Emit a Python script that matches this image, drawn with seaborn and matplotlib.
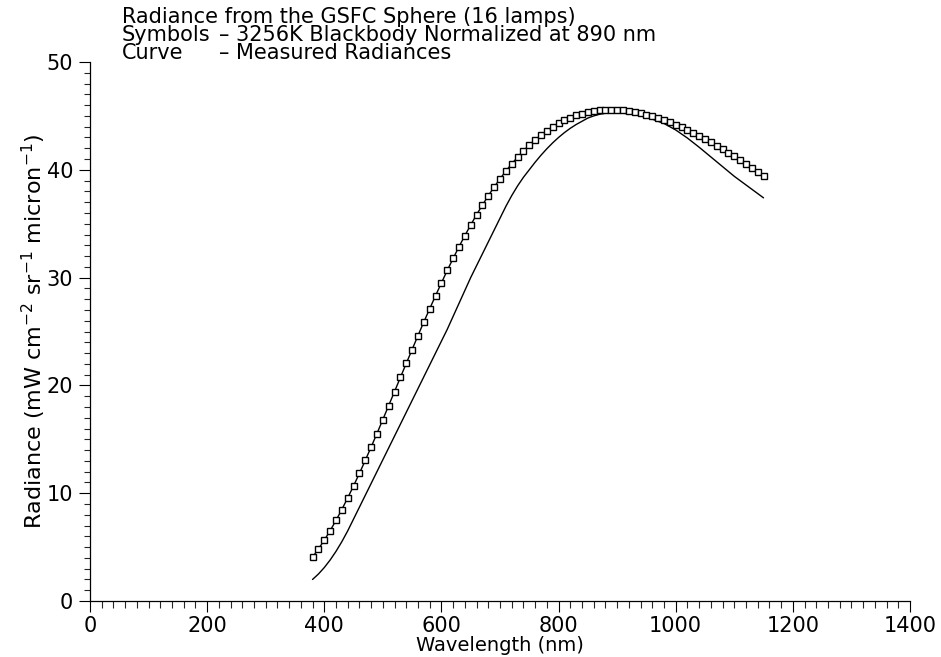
import matplotlib
matplotlib.use("Agg")
import matplotlib.pyplot as plt
from matplotlib.ticker import MultipleLocator
import seaborn as sns
import pandas as pd

# Wavelengths (nm) of the blackbody symbols, every 10 nm
bb_wavelength = list(range(380, 1151, 10))
# 3256K blackbody normalized at 890 nm
bb_radiance = [
    4.07, 4.82, 5.64, 6.52, 7.47, 8.49, 9.56, 10.68, 11.84, 13.04,
    14.28, 15.54, 16.83, 18.13, 19.43, 20.74, 22.04, 23.33, 24.62, 25.88,
    27.11, 28.32, 29.50, 30.67, 31.78, 32.86, 33.89, 34.88, 35.83, 36.73,
    37.59, 38.40, 39.16, 39.88, 40.55, 41.17, 41.76, 42.29, 42.78, 43.22,
    43.63, 43.99, 44.31, 44.60, 44.84, 45.05, 45.22, 45.36, 45.46, 45.53,
    45.57, 45.59, 45.58, 45.54, 45.47, 45.38, 45.27, 45.13, 44.98, 44.81,
    44.62, 44.41, 44.18, 43.93, 43.69, 43.42, 43.15, 42.85, 42.55, 42.24,
    41.91, 41.59, 41.25, 40.90, 40.56, 40.20, 39.84, 39.47,
]

# Measured radiances (curve)
meas_wavelength = [380, 390, 400, 410, 420, 430, 440, 450, 460, 470,
                   480, 490, 500, 510, 520, 530, 540, 550, 560, 570,
                   580, 590, 600, 610, 620, 630, 640, 650, 660, 670,
                   680, 690, 700, 710, 720, 730, 740, 750, 760, 770,
                   780, 790, 800, 810, 820, 830, 840, 850, 860, 870,
                   880, 890, 900, 920, 940, 960, 980, 1000, 1020, 1040,
                   1060, 1080, 1100, 1120, 1140, 1150]
meas_radiance = [2.0, 2.5, 3.1, 3.8, 4.6, 5.5, 6.5, 7.6, 8.7, 9.8,
                 10.9, 12.0, 13.1, 14.2, 15.3, 16.4, 17.5, 18.6, 19.7, 20.8,
                 21.9, 23.0, 24.1, 25.2, 26.4, 27.6, 28.8, 30.0, 31.1, 32.2,
                 33.3, 34.4, 35.5, 36.6, 37.6, 38.5, 39.3, 40.0, 40.7, 41.35,
                 41.95, 42.5, 43.0, 43.45, 43.85, 44.2, 44.5, 44.8, 45.0, 45.15,
                 45.25, 45.3, 45.3, 45.2, 45.0, 44.7, 44.3, 43.7, 42.95, 42.1,
                 41.2, 40.3, 39.4, 38.6, 37.8, 37.4]

title_lines = ["Radiance from the GSFC Sphere (16 lamps)",
               "Symbols", "Curve"]
title_desc = ["", "\u2013 3256K Blackbody Normalized at 890 nm",
              "\u2013 Measured Radiances"]
x_ticks = [0, 200, 400, 600, 800, 1000, 1200, 1400]
y_ticks = [0, 10, 20, 30, 40, 50]

bb_df = pd.DataFrame({"wl": bb_wavelength, "rad": bb_radiance})
meas_df = pd.DataFrame({"wl": meas_wavelength, "rad": meas_radiance})

sns.set_style("ticks")
plt.rcParams["font.family"] = ["DejaVu Sans"]
plt.rcParams["text.color"] = "black"
plt.rcParams["axes.labelcolor"] = "black"

fig = plt.figure(figsize=(9.41, 6.57), dpi=100)
ax = fig.add_axes([0.0956, 0.0852, 0.8714, 0.8204])

sns.lineplot(data=meas_df, x="wl", y="rad", ax=ax, color="black",
             linewidth=1.0)
sns.lineplot(data=bb_df, x="wl", y="rad", ax=ax, color="black",
             linewidth=1.0, marker="s", markersize=4.6,
             markerfacecolor="white", markeredgecolor="black",
             markeredgewidth=1.0)

ax.set_xlim(0, 1400)
ax.set_ylim(0, 50)
ax.set_xticks(x_ticks)
ax.set_yticks(y_ticks)
ax.xaxis.set_minor_locator(MultipleLocator(20))
ax.yaxis.set_minor_locator(MultipleLocator(1))
ax.tick_params(axis="both", which="major", labelsize=15, color="black",
               width=0.8, labelcolor="black")
ax.tick_params(axis="x", which="major", length=8, pad=3)
ax.tick_params(axis="x", which="minor", length=5, width=0.8)
ax.tick_params(axis="y", which="major", length=8, pad=4)
ax.tick_params(axis="y", which="minor", length=4, width=0.8)

for s in ["top", "right"]:
    ax.spines[s].set_visible(False)
for s in ["left", "bottom"]:
    ax.spines[s].set_color("black")
    ax.spines[s].set_linewidth(0.9)

ax.set_xlabel("Wavelength (nm)", fontsize=14, labelpad=0)
ax.set_ylabel(r"Radiance (mW cm$^{-2}$ sr$^{-1}$ micron$^{-1}$)",
              fontsize=16)
ax.yaxis.set_label_coords(-0.051, 0.5)

ys = [0.990, 0.962, 0.934]
for i in range(3):
    fig.text(0.1296, ys[i], title_lines[i], fontsize=15, va="top",
             ha="left")
    if title_desc[i]:
        fig.text(0.2330, ys[i], title_desc[i], fontsize=15, va="top",
                 ha="left")

fig.savefig("out.png", dpi=100)
